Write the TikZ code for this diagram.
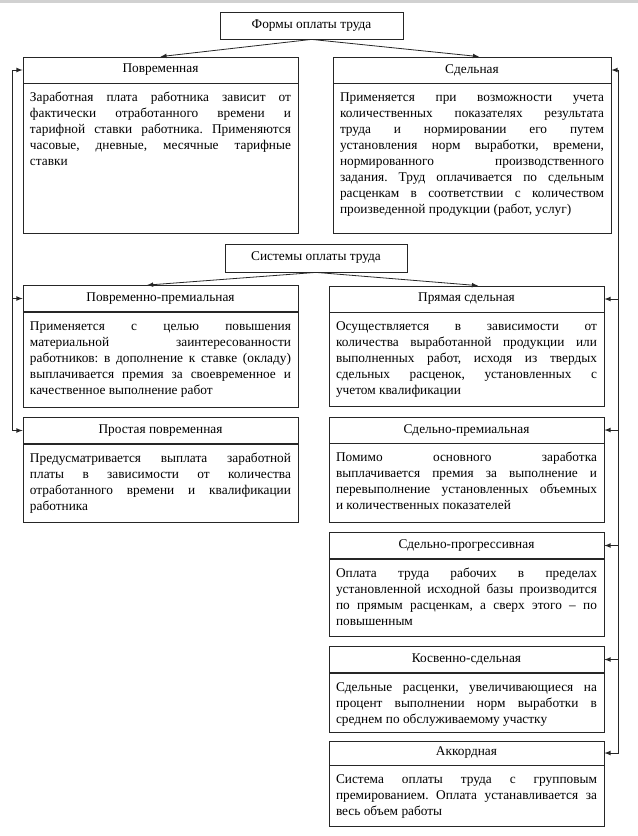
\documentclass[tikz,border=0pt]{standalone}
\usepackage{fontspec}
\setmainfont{Liberation Serif}
\usetikzlibrary{positioning}
\tikzset{>=latex}
\frenchspacing
\newlength{\pxu}
\setlength{\pxu}{0.75pt}
\newcommand{\boxtext}[3]{\parbox[t][\dimexpr#2\pxu-10pt\relax][t]{#1\pxu}{\strut#3}}
\tikzset{
  title/.style={rectangle,draw,font=\fontsize{10}{12}\selectfont,minimum width=183\pxu,minimum height=27\pxu,inner sep=0pt},
  head/.style={rectangle,draw,font=\fontsize{10}{12}\selectfont,minimum width=275\pxu,minimum height=26\pxu,inner sep=0pt},
  body/.style={rectangle,draw,font=\fontsize{10}{12}\selectfont,inner xsep=7\pxu,inner ysep=5pt}
}
\begin{document}
\begin{tikzpicture}[x=0.75pt,y=-0.75pt,line width=0.6pt,draw=black!85]
    \useasboundingbox (0,0) rectangle (638,836);
    \fill [black!18] (0,0) rectangle (638,3);
    \node at (311.5, 25.5) [title] (formy) {Формы оплаты труда};
    \node at (160.5, 70) [head] (povr) {Повременная};
    \node [body, below=0pt of povr] (povr_t) {\boxtext{261}{150}{Заработная плата работника зависит от\linebreak
      фактически отработанного времени и\linebreak тарифной ставки работника. Применяются\linebreak
      часовые, дневные, месячные тарифные\linebreak ставки}};
    \node at (472, 70) [head, minimum width=278\pxu] (sdel) {Сдельная};
    \node [body, below=0pt of sdel] (sdel_t) {\boxtext{264}{150}{Применяется при возможности учета\linebreak
      количественных показателях результата\linebreak труда и нормировании его путем\linebreak
      установления норм выработки, времени,\linebreak нормированного производственного\linebreak
      задания. Труд оплачивается по сдельным\linebreak расценкам в соответствии с количеством\linebreak
      произведенной продукции (работ, услуг)}};
    \node at (316, 258) [title, minimum width=182\pxu, minimum height=28\pxu] (sist) {Системы оплаты труда};
    \node at (160.5, 298.5) [head] (pprem) {Повременно-премиальная};
    \node [body, below=0pt of pprem] (pprem_t) {\boxtext{261}{95.5}{Применяется с целью повышения\linebreak
      материальной заинтересованности\linebreak работников: в дополнение к ставке (окладу)\linebreak
      выплачивается премия за своевременное и\linebreak качественное выполнение работ}};
    \node at (466.5, 299) [head] (prjam) {Прямая сдельная};
    \node [body, below=0pt of prjam] (prjam_t) {\boxtext{261}{94}{Осуществляется в зависимости от\linebreak
      количества выработанной продукции или\linebreak выполненных работ, исходя из твердых\linebreak
      сдельных расценок, установленных с\linebreak учетом квалификации}};
    \node at (160.5, 430.5) [head] (prost) {Простая повременная};
    \node [body, below=0pt of prost] (prost_t) {\boxtext{261}{78.5}{Предусматривается выплата заработной\linebreak
      платы в зависимости от количества\linebreak отработанного времени и квалификации\linebreak
      работника}};
    \node at (466.5, 430) [head] (sprem) {Сдельно-премиальная};
    \node [body, below=0pt of sprem] (sprem_t) {\boxtext{261}{79}{Помимо основного заработка\linebreak
      выплачивается премия за выполнение и\linebreak перевыполнение установленных объемных\linebreak
      и количественных показателей}};
    \node at (466.5, 545.5) [head] (sprog) {Сдельно-прогрессивная};
    \node [body, below=0pt of sprog] (sprog_t) {\boxtext{261}{77.5}{Оплата труда рабочих в пределах\linebreak
      установленной исходной базы производится\linebreak по прямым расценкам, а сверх этого -- по\linebreak
      повышенным}};
    \node at (466.5, 659.5) [head] (kosv) {Косвенно-сдельная};
    \node [body, below=0pt of kosv] (kosv_t) {\boxtext{261}{59.5}{Сдельные расценки, увеличивающиеся на\linebreak
      процент выполнении норм выработки в\linebreak среднем по обслуживаемому участку}};
    \node at (466.5, 753) [head, minimum height=24\pxu] (akk) {Аккордная};
    \node [body, below=0pt of akk] (akk_t) {\boxtext{261}{61}{Система оплаты труда с групповым\linebreak
      премированием. Оплата устанавливается за\linebreak весь объем работы}};
    \coordinate (lbus) at (12.7, 0);
    \coordinate (rbus) at (618.5, 0);
    \draw [->] (formy.south) to (povr.north);
    \draw [->] (formy.south) to ([xshift=7\pxu]sdel.north);
    \draw [->] (sist.south) to ([xshift=-13.5\pxu]pprem.north);
    \draw [->] (sist.south) to ([xshift=11.5\pxu]prjam.north);
    \draw (lbus |- povr.west) to (lbus |- prost.west);
    \draw [->] (lbus |- povr.west) to (povr.west);
    \draw [->] (lbus |- pprem.west) to (pprem.west);
    \draw [->] (lbus |- prost.west) to (prost.west);
    \draw (rbus |- sdel.east) to (rbus |- akk.east);
    \draw [->] (rbus |- sdel.east) to (sdel.east);
    \draw [->] (rbus |- prjam.east) to (prjam.east);
    \draw [->] (rbus |- sprem.east) to (sprem.east);
    \draw [->] (rbus |- sprog.east) to (sprog.east);
    \draw [->] (rbus |- kosv.east) to (kosv.east);
    \draw [->] (rbus |- akk.east) to (akk.east);
  \end{tikzpicture}
\end{document}
